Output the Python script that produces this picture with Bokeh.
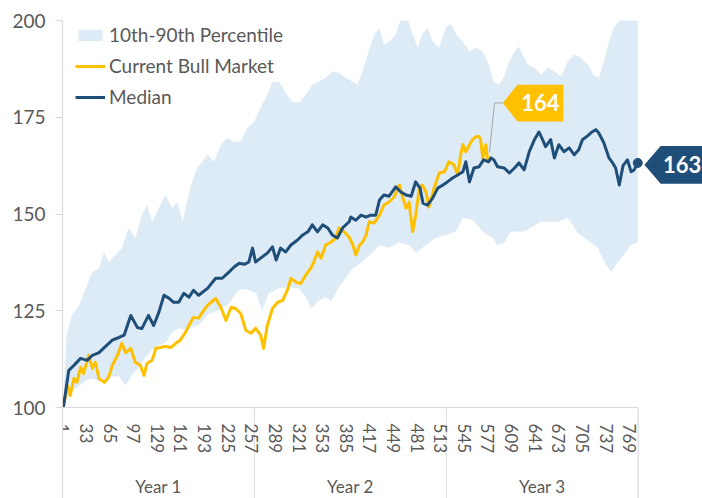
import math
from bokeh.plotting import figure
from bokeh.models import FixedTicker, Label, PolyAnnotation
from bokeh.embed import file_html
from bokeh.resources import INLINE

# ---------------- data ----------------
x_tick_days = [1, 33, 65, 97, 129, 161, 193, 225, 257, 289, 321, 353, 385, 417,
               449, 481, 513, 545, 577, 609, 641, 673, 705, 737, 769]
year_bounds = [0.5, 260.5, 520.5, 780.5]
year_labels = ["Year 1", "Year 2", "Year 3"]
year_centers = [130.5, 390.5, 650.5]
y_ticks = [100, 125, 150, 175, 200]

hi_days = [1, 6, 13, 23, 32, 41, 50, 57, 63, 72, 81, 90, 99, 108, 115, 122, 131, 140,
           149, 156, 163, 169, 176, 183, 190, 197, 206, 215, 224, 233, 242, 251, 260,
           269, 278, 285, 294, 303, 312, 321, 330, 339, 348, 357, 366, 375, 384, 394,
           400, 407, 414, 423, 430, 436, 443, 452, 459, 468, 475, 482, 488, 495, 502,
           511, 520, 527, 534, 543, 552, 561, 570, 578, 585, 592, 599, 606, 613, 619,
           626, 631, 640, 649, 658, 667, 676, 685, 694, 703, 712, 720, 727, 734, 741,
           748, 757, 766, 780]
hi_vals = [100, 118.7, 123.8, 126.4, 130.8, 135.0, 136.0, 140.2, 137.6, 139.4, 141.2,
           146.4, 143.8, 149.7, 152.3, 148.0, 151.5, 154.9, 151.5, 153.1, 148.0, 153.1,
           158.3, 161.9, 163.5, 165.3, 163.5, 167.9, 169.7, 168.7, 168.7, 172.3, 173.8,
           177.5, 180.8, 184.2, 184.2, 181.3, 179.0, 178.8, 180.8, 183.4, 184.2, 185.2,
           186.8, 186.5, 185.2, 184.2, 183.4, 186.8, 191.2, 196.4, 198.2, 193.8, 194.6,
           196.4, 200.5, 200.5, 196.4, 193.0, 196.4, 198.2, 194.6, 193.0, 198.2, 199.0,
           196.4, 194.6, 192.0, 193.0, 192.0, 188.6, 184.2, 183.4, 185.5, 189.4, 192.0,
           193.3, 190.4, 188.6, 187.8, 186.0, 187.8, 186.8, 185.5, 189.4, 191.2, 190.4,
           188.6, 186.0, 185.2, 189.4, 194.6, 198.2, 200.5, 201.0, 201.0]

lo_days = [1, 7, 14, 23, 32, 41, 50, 59, 68, 77, 86, 95, 104, 113, 121, 131, 141, 148,
           158, 167, 175, 186, 199, 212, 226, 239, 249, 263, 271, 280, 294, 307, 321,
           330, 338, 348, 357, 365, 375, 384, 394, 407, 421, 430, 443, 456, 470, 479,
           493, 506, 520, 533, 543, 556, 570, 583, 590, 599, 608, 626, 649, 672, 685,
           699, 716, 726, 737, 744, 753, 761, 771, 780]
lo_vals = [100, 102.5, 104.5, 105.5, 107.0, 107.5, 106.8, 107.5, 108.0, 108.0, 105.7,
           108.5, 110.4, 113.0, 114.8, 116.0, 116.9, 119.2, 120.5, 120.2, 120.7, 121.5,
           124.3, 125.1, 126.9, 130.3, 130.6, 129.5, 125.1, 129.5, 130.8, 131.1, 130.8,
           128.5, 125.6, 127.7, 128.5, 127.5, 131.1, 133.4, 136.0, 137.6, 140.2, 142.0,
           141.2, 142.7, 142.0, 140.0, 142.0, 143.8, 144.6, 145.4, 149.0, 148.5, 145.4,
           143.8, 142.0, 142.5, 145.4, 145.5, 148.0, 148.0, 149.0, 145.1, 142.7, 141.2,
           136.8, 135.0, 137.6, 139.4, 142.0, 142.7]

median_days = [1, 2, 9, 16, 25, 34, 41, 50, 57, 68, 77, 84, 93, 102, 108, 117, 124, 131,
               138, 145, 151, 158, 165, 172, 178, 185, 197, 208, 217, 226, 233, 240, 247,
               253, 258, 262, 269, 278, 285, 290, 296, 303, 310, 319, 326, 333, 339, 346,
               353, 360, 366, 373, 380, 389, 391, 398, 405, 412, 418, 425, 430, 436, 443,
               452, 459, 466, 473, 479, 485, 489, 495, 502, 509, 516, 522, 529, 536, 543,
               547, 552, 558, 565, 571, 578, 581, 585, 590, 599, 606, 613, 619, 626, 633,
               640, 646, 651, 655, 662, 667, 673, 680, 687, 694, 700, 705, 712, 718, 723,
               727, 734, 741, 746, 750, 755, 760, 766, 771, 775, 780]
median_vals = [100, 100.5, 109.6, 110.9, 112.7, 112.2, 113.5, 114.2, 115.5, 117.4, 118.1,
               118.7, 123.8, 120.7, 120.4, 123.8, 121.2, 124.6, 129.0, 128.2, 127.2, 127.2,
               129.5, 128.5, 130.3, 129.0, 130.8, 133.4, 133.4, 135.0, 136.3, 137.3, 137.0,
               137.6, 141.2, 137.6, 138.6, 139.9, 141.5, 138.1, 141.2, 140.2, 142.0, 143.3,
               144.6, 145.4, 147.2, 145.4, 147.2, 146.4, 144.6, 143.8, 146.4, 148.0, 149.2,
               148.4, 149.7, 149.2, 149.7, 149.7, 153.6, 154.9, 154.6, 157.0, 155.7, 154.9,
               154.6, 158.3, 156.7, 152.8, 152.3, 154.1, 156.7, 157.5, 158.3, 159.3, 160.1,
               160.9, 163.5, 158.3, 161.9, 162.2, 164.0, 163.5, 164.5, 164.0, 162.2, 161.9,
               160.6, 161.9, 163.2, 161.4, 166.1, 169.2, 171.2, 169.2, 167.4, 169.2, 164.5,
               167.9, 166.1, 167.1, 165.3, 166.6, 169.2, 170.2, 171.2, 171.8, 171.0, 168.4,
               164.5, 163.2, 161.9, 157.5, 162.5, 164.0, 160.9, 161.4, 163.2]

bull_days = [1, 2, 7, 11, 16, 20, 25, 29, 36, 41, 45, 50, 57, 63, 68, 75, 81, 86, 93, 99,
             106, 111, 115, 122, 127, 133, 140, 147, 154, 160, 167, 174, 178, 185, 192,
             197, 202, 208, 215, 222, 229, 235, 242, 249, 256, 262, 269, 273, 278, 285,
             292, 299, 306, 310, 317, 323, 330, 337, 341, 346, 351, 357, 364, 371, 375,
             382, 389, 394, 398, 403, 407, 412, 416, 423, 430, 436, 443, 450, 457, 461,
             466, 470, 475, 479, 484, 488, 493, 497, 504, 511, 518, 524, 531, 536, 540,
             543, 547, 552, 556, 561, 565, 567, 570, 574, 577, 581]
bull_vals = [100, 100.5, 105.7, 103.1, 107.5, 106.5, 110.4, 108.8, 113.5, 110.1, 111.7,
             107.5, 106.5, 107.8, 110.9, 113.5, 116.6, 114.2, 115.3, 111.7, 110.9, 108.3,
             111.4, 112.2, 115.3, 115.5, 115.8, 115.5, 116.6, 117.4, 119.4, 122.0, 123.3,
             123.1, 125.1, 126.4, 127.2, 128.2, 125.9, 122.5, 125.9, 125.6, 124.3, 119.9,
             119.2, 120.5, 118.7, 115.3, 121.2, 125.6, 127.2, 127.7, 130.8, 133.4, 132.4,
             132.0, 134.2, 136.0, 137.6, 140.2, 138.6, 142.0, 142.7, 143.8, 146.4, 145.4,
             144.0, 142.0, 139.4, 142.0, 142.7, 144.6, 148.0, 147.7, 149.7, 152.3, 153.1,
             154.4, 157.5, 154.6, 151.5, 153.1, 145.4, 149.7, 156.7, 157.5, 155.7, 151.8,
             156.7, 160.6, 160.9, 163.5, 162.7, 160.1, 165.3, 167.9, 166.1, 167.9, 169.2,
             170.0, 170.0, 169.2, 164.5, 167.9, 163.5, 164.5]

bull_callout = "164"
median_callout = "163"

# ---------------- styling ----------------
FONT = "Lato"
TEXT = "#595959"
AXIS = "#D9D9D9"
NAVY = "#1F4E79"
GOLD = "#FFC000"
BAND = "#DDEBF7"

X_END = 867.7      # frame reaches the right edge so the median call-out fits
Y_MIN = 76.5       # frame reaches the bottom edge (room for the category rows)

p = figure(width=702, height=498, x_range=(0.5, X_END), y_range=(Y_MIN, 200),
           output_backend="svg", toolbar_location=None,
           min_border_left=62, min_border_right=0, min_border_top=20,
           min_border_bottom=0)
p.outline_line_color = None
p.grid.visible = False

band_x = hi_days + lo_days[::-1]
band_y = hi_vals + lo_vals[::-1]
p.patch(band_x, band_y, fill_color=BAND, line_color=None,
        legend_label="10th-90th Percentile")
p.line(bull_days, bull_vals, line_color=GOLD, line_width=3, line_join="round",
       legend_label="Current Bull Market")
p.line(median_days, median_vals, line_color=NAVY, line_width=3, line_join="round",
       legend_label="Median")
p.scatter([median_days[-1]], [median_vals[-1]], size=9, color=NAVY)

# category axis line (only under the data span) and year separators
p.segment(x0=[year_bounds[0]], x1=[year_bounds[-1]], y0=[y_ticks[0]], y1=[y_ticks[0]],
          line_color=AXIS, line_width=1)
p.segment(x0=year_bounds[1:], x1=year_bounds[1:], y0=[y_ticks[0]] * 3,
          y1=[Y_MIN] * 3, line_color=AXIS, line_width=1)

# x axis, drawn at y = 100 inside the frame
xa = p.xaxis[0]
xa.fixed_location = y_ticks[0]
xa.ticker = FixedTicker(ticks=x_tick_days)
xa.major_tick_in = 0
xa.major_tick_out = 0
xa.major_tick_line_color = None
xa.minor_tick_in = 0
xa.minor_tick_out = 0
xa.minor_tick_line_color = None
xa.axis_line_color = None
xa.major_label_orientation = -math.pi / 2
xa.major_label_standoff = 16
xa.major_label_text_font = FONT
xa.major_label_text_font_size = "17px"
xa.major_label_text_color = TEXT

# y axis
ya = p.yaxis[0]
ya.ticker = FixedTicker(ticks=y_ticks)
ya.major_tick_in = 0
ya.major_tick_out = 7
ya.major_tick_line_color = AXIS
ya.minor_tick_line_color = None
ya.axis_line_color = AXIS
ya.major_label_standoff = 10
ya.major_label_text_font = FONT
ya.major_label_text_font_size = "19px"
ya.major_label_text_color = TEXT

for xc, lab in zip(year_centers, year_labels):
    p.add_layout(Label(x=xc, y=79.6, text=lab, text_align="center",
                       text_baseline="middle", text_font=FONT,
                       text_font_size="17px", text_color=TEXT))

# legend
lg = p.legend[0]
lg.location = (13, 390)
lg.margin = 0
lg.padding = 0
lg.spacing = 8
lg.label_height = 22
lg.glyph_width = 30
lg.glyph_height = 14
lg.label_standoff = 4
lg.label_text_font = FONT
lg.label_text_font_size = "19px"
lg.label_text_color = TEXT
lg.border_line_color = None
lg.background_fill_alpha = 0

# call-out for the current bull market
bx, bv = bull_days[-1], bull_vals[-1]
p.line([bx - 2, bx + 5, bx + 16], [bv + 1.5, 178.7, 178.7], line_color="#A6A6A6",
       line_width=1)
p.add_layout(PolyAnnotation(xs=[597, 617, 679, 679, 617],
                            ys=[178.7, 183.4, 183.4, 173.9, 173.9],
                            fill_color=GOLD, fill_alpha=1, line_color=None))
p.add_layout(Label(x=648, y=178.7, text=bull_callout, text_align="center",
                   text_baseline="middle", text_font=FONT, text_font_style="bold",
                   text_font_size="22px", text_color="white"))

# call-out for the median
p.add_layout(PolyAnnotation(xs=[789, 811, X_END, X_END, 811],
                            ys=[162.7, 167.6, 167.6, 157.8, 157.8],
                            fill_color=NAVY, fill_alpha=1, line_color=None))
p.add_layout(Label(x=840, y=162.7, text=median_callout, text_align="center",
                   text_baseline="middle", text_font=FONT, text_font_style="bold",
                   text_font_size="22px", text_color="white"))

open("out.html", "w").write(file_html(p, INLINE))
